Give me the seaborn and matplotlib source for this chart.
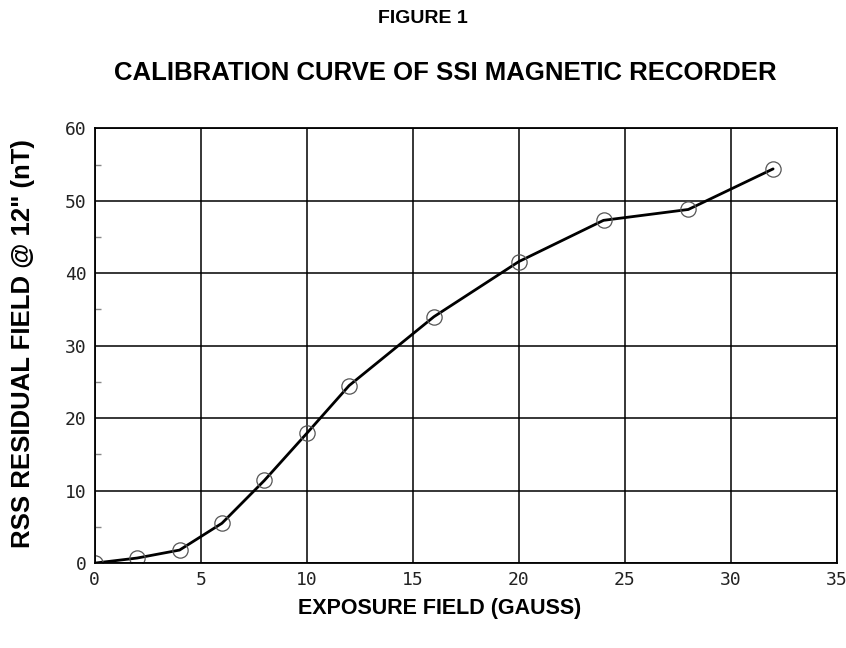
import numpy as np
import pandas as pd
import matplotlib
matplotlib.use("Agg")
import matplotlib.pyplot as plt
import seaborn as sns

# datos
exposure = [0, 2, 4, 6, 8, 10, 12, 16, 20, 24, 28, 32]
residual = [0, 0.7, 1.8, 5.5, 11.4, 17.9, 24.5, 34.0, 41.6, 47.3, 48.8, 54.4]
x_ticks = [0, 5, 10, 15, 20, 25, 30, 35]
y_ticks = [0, 10, 20, 30, 40, 50, 60]

df = pd.DataFrame({"exposure": exposure, "residual": residual})

sns.set_theme(style="white")
plt.rcParams["font.family"] = ["Liberation Sans", "DejaVu Sans"]
plt.rcParams["text.color"] = "black"
plt.rcParams["axes.labelcolor"] = "black"

fig = plt.figure(figsize=(8.46, 6.48), dpi=100)
ax = fig.add_axes([0.112, 0.131, 0.877, 0.671])

sns.lineplot(data=df, x="exposure", y="residual", ax=ax, color="black",
             linewidth=2.0, marker="o", markersize=11, markerfacecolor="none",
             markeredgecolor="#555555", markeredgewidth=0.9)

ax.set_xlim(0, 35)
ax.set_ylim(0, 60)
ax.set_xticks(x_ticks)
ax.set_yticks(y_ticks)
ax.set_yticks(np.arange(5, 60, 10), minor=True)
ax.grid(True, which="major", color="black", linewidth=1.1)
for s in ax.spines.values():
    s.set_color("black")
    s.set_linewidth(1.3)
ax.tick_params(axis="both", which="major", labelsize=13, length=0, pad=6)
ax.tick_params(axis="y", which="minor", direction="in", length=4, color="#888888", left=True)
for lab in ax.get_xticklabels() + ax.get_yticklabels():
    lab.set_family(["DejaVu Sans Mono", "DejaVu Sans"])
    lab.set_color("#222222")

ax.set_xlabel("EXPOSURE FIELD (GAUSS)", fontsize=15.5, fontweight="bold")
ax.set_ylabel("RSS RESIDUAL FIELD @ 12\" (nT)", fontsize=18.5, fontweight="bold")
ax.xaxis.set_label_coords(0.465, -0.08)
ax.yaxis.set_label_coords(-0.08, 0.505)

fig.text(0.5, 0.972, "FIGURE 1", ha="center", va="center", fontsize=14, fontweight="bold")
fig.text(0.526, 0.888, "CALIBRATION CURVE OF SSI MAGNETIC RECORDER", ha="center",
         va="center", fontsize=18.5, fontweight="bold")

fig.savefig("out.png", dpi=100)
